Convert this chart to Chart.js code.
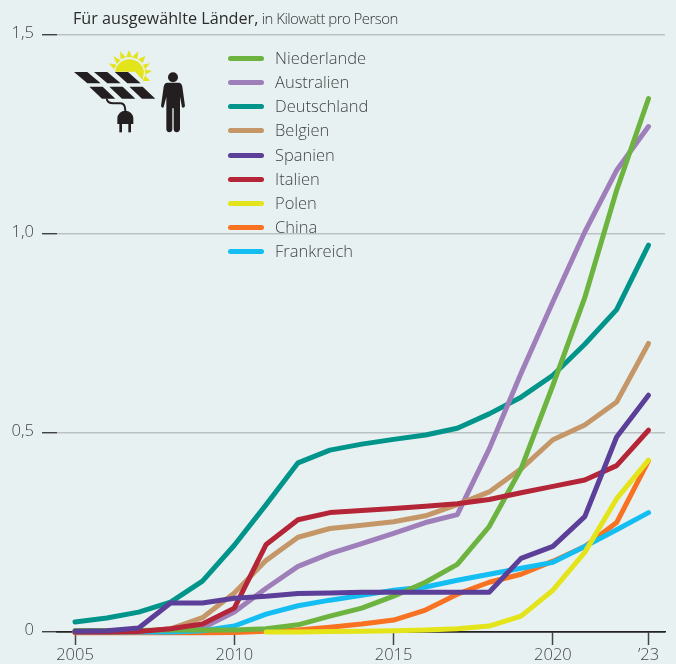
<!DOCTYPE html>
<html lang="de">

<head>
    <meta charset="UTF-8">
    <title>Solarleistung pro Person</title>
    <script src="https://cdn.jsdelivr.net/npm/chart.js@4"></script>
    <style>
        html, body {
            margin: 0;
            padding: 0;
            background-color: #e8f1f2;
        }

        body {
            position: relative;
            width: 676px;
            height: 664px;
            overflow: hidden;
            font-family: "Open Sans", sans-serif;
            color: #444;
        }

        #wrap {
            position: absolute;
            left: 0;
            top: 0;
            width: 676px;
            height: 664px;
        }

        #title {
            position: absolute;
            left: 73px;
            top: 8px;
            font-size: 15px;
            line-height: 20px;
            font-weight: 300;
            letter-spacing: -0.55px;
            white-space: nowrap;
            color: #333;
        }

        #title b {
            font-size: 16.2px;
            font-weight: 500;
            letter-spacing: 0;
            color: #2b2b2b;
        }

        #icon {
            position: absolute;
            left: 0;
            top: 0;
        }

        .legend-row {
            position: absolute;
            left: 228px;
            height: 24px;
            line-height: 24px;
            font-size: 16.5px;
            font-weight: 300;
            white-space: nowrap;
        }

        .legend-row i {
            position: absolute;
            left: 0;
            top: 9.5px;
            width: 36px;
            height: 5px;
            border-radius: 3px;
        }

        .legend-row span {
            position: absolute;
            left: 47px;
        }
    </style>
</head>

<body>
    <div id="wrap"><canvas id="chart" width="676" height="664"></canvas></div>

    <div id="title"><b>Für ausgewählte Länder,</b> in Kilowatt pro Person</div>

    <!-- Solar panel and person icon -->
    <svg id="icon" width="360" height="270" viewBox="0 0 1080 810">
        <g fill="#e4e41a">
            <path d="M345 215 A44 44 0 0 1 432 215 L428 240 L405 215 Z" />
            <path d="M387 150 L396 172 L378 172 Z" />
            <path d="M360 154 L378 172 L362 178 Z" />
            <path d="M340 168 L362 181 L350 192 Z" />
            <path d="M326 190 L350 194 L342 208 Z" />
            <path d="M415 154 L412 178 L396 172 Z" />
            <path d="M436 168 L428 190 L414 178 Z" />
            <path d="M450 190 L436 208 L428 194 Z" />
            <path d="M456 213 L436 224 L434 208 Z" />
            <path d="M450 243 L428 243 L436 226 Z" />
        </g>
        <g fill="#231f20">
            <path d="M222 216 H262 L302 250 H262 Z" />
            <path d="M282 216 H322 L362 250 H322 Z" />
            <path d="M344 216 H384 L422 250 H382 Z" />
            <path d="M268 260 H308 L346 296 H306 Z" />
            <path d="M328 260 H368 L406 296 H366 Z" />
            <path d="M388 260 H428 L466 296 H426 Z" />
            <path d="M352 372 V356 A24 24 0 0 1 400 356 V372 Z" />
            <rect x="358" y="370" width="8" height="27" />
            <rect x="385" y="370" width="8" height="27" />
            <circle cx="519" cy="232" r="15" />
            <path d="M500 248 H538 Q545 249 547 260 L555 318 Q552 326 546 322 L540 290 V388 Q538 397 530 397 Q522 397 521 388 V325 H517 V388 Q516 397 508 397 Q500 397 499 388 V290 L491 322 Q486 326 483 318 L491 260 Q493 249 500 248 Z" />
        </g>
        <path d="M320 296 Q322 310 340 310 H362 Q376 310 376 334" fill="none" stroke="#231f20" stroke-width="6" />
    </svg>

    <div id="legend"></div>

    <script>
        const years = [2005, 2006, 2007, 2008, 2009, 2010, 2011, 2012, 2013, 2014, 2015, 2016, 2017, 2018, 2019, 2020, 2021, 2022, 2023];

        const niederlande = [0.004, 0.004, 0.004, 0.005, 0.005, 0.005, 0.008, 0.018, 0.04, 0.06, 0.09, 0.125, 0.17, 0.265, 0.41, 0.62, 0.84, 1.11, 1.34];
        const australien = [0, 0, 0, 0.001, 0.01, 0.05, 0.11, 0.165, 0.197, 0.222, 0.248, 0.275, 0.295, 0.46, 0.65, 0.83, 1.005, 1.16, 1.27];
        const deutschland = [0.025, 0.035, 0.05, 0.075, 0.128, 0.218, 0.32, 0.425, 0.457, 0.472, 0.484, 0.495, 0.512, 0.548, 0.59, 0.645, 0.723, 0.81, 0.972];
        const belgien = [0, 0, 0, 0.008, 0.036, 0.098, 0.18, 0.238, 0.26, 0.268, 0.277, 0.292, 0.32, 0.352, 0.41, 0.483, 0.52, 0.578, 0.725];
        const spanien = [0.002, 0.003, 0.01, 0.073, 0.073, 0.085, 0.09, 0.097, 0.098, 0.1, 0.1, 0.1, 0.1, 0.1, 0.185, 0.215, 0.29, 0.49, 0.595];
        const italien = [0, 0, 0.001, 0.008, 0.02, 0.06, 0.22, 0.282, 0.3, 0.305, 0.31, 0.316, 0.322, 0.333, 0.35, 0.366, 0.382, 0.418, 0.507];
        const polen = [null, null, null, null, null, null, 0, 0, 0.001, 0.002, 0.003, 0.005, 0.008, 0.015, 0.04, 0.105, 0.2, 0.335, 0.432];
        const china = [-0.002, -0.002, -0.002, -0.002, -0.002, -0.001, 0.002, 0.005, 0.012, 0.02, 0.03, 0.055, 0.095, 0.125, 0.145, 0.178, 0.215, 0.275, 0.43];
        const frankreich = [0, 0, 0, 0, 0.003, 0.015, 0.045, 0.066, 0.08, 0.092, 0.105, 0.113, 0.13, 0.145, 0.16, 0.175, 0.215, 0.257, 0.3];

        const yTicks = [0, 0.5, 1, 1.5];
        const yTickLabels = ["0", "0,5", "1,0", "1,5"];
        const xTicks = [2005, 2010, 2015, 2020, 2023];
        const xTickLabels = ["2005", "2010", "2015", "2020", "’23"];

        // legend order, top to bottom
        const countries = ["Niederlande", "Australien", "Deutschland", "Belgien", "Spanien", "Italien", "Polen", "China", "Frankreich"];
        const series = [niederlande, australien, deutschland, belgien, spanien, italien, polen, china, frankreich];
        const colors = ["#6db33f", "#9f7fba", "#00948a", "#c59768", "#5b3f99", "#b42537", "#e4e41a", "#f87222", "#14bdf2"];
        // higher number is drawn further back
        const drawOrder = [3, 7, 8, 6, 1, 2, 0, 5, 4];

        const legendTops = [46, 70, 94, 118, 143, 167, 191, 215, 239];

        const legend = document.getElementById("legend");
        countries.forEach((name, i) => {
            const row = document.createElement("div");
            row.className = "legend-row";
            row.style.top = legendTops[i] + "px";
            row.innerHTML = `<i style="background:${colors[i]}"></i><span>${name}</span>`;
            legend.appendChild(row);
        });

        const tickFont = { family: "'Open Sans', sans-serif", size: 16.5, weight: "300" };

        new Chart(document.getElementById("chart").getContext("2d"), {
            type: "line",
            data: {
                datasets: countries.map((name, i) => ({
                    label: name,
                    data: years.map((y, j) => ({ x: y, y: series[i][j] })),
                    borderColor: colors[i],
                    backgroundColor: colors[i],
                    borderWidth: 5,
                    borderCapStyle: "round",
                    borderJoinStyle: "round",
                    tension: 0,
                    pointRadius: 0,
                    clip: false,
                    order: drawOrder[i],
                })),
            },
            options: {
                responsive: false,
                animation: false,
                devicePixelRatio: 1,
                layout: { padding: { top: 35, right: 11, left: 0, bottom: 0 } },
                plugins: {
                    legend: { display: false },
                    tooltip: { enabled: false },
                },
                scales: {
                    x: {
                        type: "linear",
                        min: 2004.435,
                        max: 2023.518,
                        z: 1,
                        afterBuildTicks: (scale) => {
                            scale.ticks = xTicks.map((v) => ({ value: v }));
                        },
                        afterFit: (scale) => {
                            scale.height = 32;
                        },
                        border: { color: "#222", width: 1.5 },
                        grid: { drawOnChartArea: false, tickLength: 13, tickColor: "#444", tickWidth: 1.5 },
                        ticks: {
                            autoSkip: false,
                            maxRotation: 0,
                            padding: 0,
                            color: "#444",
                            font: tickFont,
                            callback: (value) => xTickLabels[xTicks.indexOf(value)],
                        },
                    },
                    y: {
                        min: 0,
                        max: 1.5,
                        afterBuildTicks: (scale) => {
                            scale.ticks = yTicks.map((v) => ({ value: v }));
                        },
                        afterFit: (scale) => {
                            scale.width = 57;
                        },
                        border: { display: false },
                        grid: {
                            color: (ctx) => (ctx.tick && ctx.tick.value === 0 ? "#222" : "#b9c1c3"),
                            lineWidth: 1.5,
                            tickLength: 15,
                            tickColor: "#222",
                            tickWidth: 1.2,
                        },
                        ticks: {
                            padding: 8,
                            color: "#444",
                            // empty second line with a small line height lifts the label a little
                            font: { ...tickFont, lineHeight: "3px" },
                            callback: (value) => [yTickLabels[yTicks.indexOf(value)], ""],
                        },
                    },
                },
            },
        });
    </script>
</body>

</html>
